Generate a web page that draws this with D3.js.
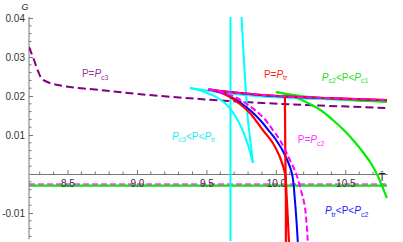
<!DOCTYPE html>
<html>
<head>
<meta charset="utf-8">
<script src="https://cdn.jsdelivr.net/npm/d3@7"></script>
<style>
body { margin: 0; background: #fff; }
svg { display: block; font-family: "Liberation Sans", Arial, sans-serif; }
</style>
</head>
<body>
<svg class="svgWrapper" width="403" height="242"></svg>
<script>
// curves, [T, G]
const pc3Dashed = [[8.223,0.03256],[8.259,0.02923],[8.288,0.02641],[8.317,0.02436],[8.374,0.02333],[8.518,0.02231],
	[8.734,0.02154],[9.007,0.02051],[9.453,0.01923],[9.906,0.01821],[10.317,0.01756],[10.799,0.01692]];

const flatGreen = [[8.223,-0.0030],[10.8,-0.0030]];
const flatMagenta = [[8.223,-0.0026],[10.8,-0.0026]];

const cyanVertical = [[9.673,0.0403],[9.673,-0.0172]];
const cyanSteep = [[9.753,0.0403],[9.770,0.02923],[9.784,0.02154],[9.799,0.01385],[9.820,0.00744],[9.835,0.00282]];
const cyanLower = [[9.381,0.02205],[9.489,0.02103],[9.583,0.01949],[9.655,0.01744],[9.712,0.01462],[9.763,0.01103],
	[9.799,0.00744],[9.835,0.00282]];
const cyanUpper = [[9.381,0.02205],[9.525,0.02128],[9.669,0.02064],[9.906,0.01987],[10.317,0.01923],[10.799,0.01859]];

const greenUpper = [[10.0,0.02103],[10.245,0.01974],[10.799,0.01846]];
const greenLower = [[10.0,0.02103],[10.115,0.0200],[10.245,0.01795],[10.331,0.01615],[10.410,0.01385],[10.496,0.01103],
	[10.568,0.00821],[10.626,0.00564],[10.683,0.00282],[10.734,-0.00051],[10.770,-0.00359],[10.799,-0.00615]];

const blueUpper = [[9.540,0.02154],[9.669,0.0210],[9.906,0.0202],[10.245,0.0196],[10.799,0.0189]];
const blueLower = [[9.540,0.02154],[9.633,0.02051],[9.705,0.01923],[9.813,0.01641],[9.899,0.01333],[9.957,0.01077],
	[10.007,0.00846],[10.065,0.00487],[10.115,0.00026],[10.137,-0.00667],[10.158,-0.01744]];

const redUpper = [[9.511,0.02167],[9.669,0.02103],[9.906,0.02026],[10.245,0.01962],[10.799,0.01897]];
const redLower = [[9.511,0.02167],[9.597,0.02103],[9.669,0.01974],[9.741,0.01795],[9.813,0.01564],[9.906,0.01128],
	[9.978,0.00795],[10.029,0.00436],[10.065,0.00026],[10.079,-0.00667],[10.094,-0.01744]];
const redVertical = [[10.065,0.0200],[10.068,0.00615],[10.072,-0.00667],[10.072,-0.01744]];

const magentaUpper = [[9.511,0.02167],[9.669,0.02103],[9.813,0.0206],[9.906,0.02026],[10.245,0.01962],[10.799,0.01897]];
const magentaLower = [[9.525,0.02179],[9.719,0.01949],[9.906,0.01462],[9.978,0.01128],[10.029,0.00872],[10.094,0.0041],
	[10.144,0.00026],[10.180,-0.0041],[10.209,-0.00846],[10.230,-0.01744]];

const xTicks = [8.5, 9.0, 9.5, 10.0, 10.5];
const xTickLabels = ['8.5','9.0','9.5','10.0','10.5'];
const yTicks = [-0.01, 0.01, 0.02, 0.03, 0.04];
const yTickLabels = ['-0.01','0.01','0.02','0.03','0.04'];

const svgObj = d3.select('.svgWrapper');

const x = d3.scaleLinear().domain([8.223, 10.8]).range([29, 387]);
const y = d3.scaleLinear().domain([-0.01718, 0.04026]).range([241, 17]);

svgObj.append('clipPath').attr('id', 'plotClip')
	.append('rect').attr('x', 29).attr('y', 17).attr('width', 360).attr('height', 226);

const lineGen = d3.line().x(d => x(d[0])).y(d => y(d[1])).curve(d3.curveCatmullRom.alpha(0.5));

function drawCurves(g, list){
	g.selectAll('path').data(list).join('path')
		.attr('d', c => lineGen(c.d))
		.attr('fill', 'none')
		.attr('stroke', c => c.c)
		.attr('stroke-width', c => c.w)
		.attr('stroke-dasharray', c => c.dash || null);
}

//flat branches go under the tick labels
drawCurves(svgObj.append('g').attr('clip-path', 'url(#plotClip)'), [
	{ d: flatGreen, c: '#00ee00', w: 2.2 },
	{ d: flatMagenta, c: '#ff44ff', w: 1.8, dash: '6,3' },
]);

//axes
const axisColor = '#777';

const xMinor = d3.range(8.3, 10.8, 0.1).filter(t => Math.abs(t*2 - Math.round(t*2)) > 0.01);
const yMinor = d3.range(-0.016, 0.0401, 0.002).filter(g => Math.abs(g*100 - Math.round(g*100)) > 0.01);

let xAxisG = svgObj.append('g').attr('transform', `translate(0,${y(0)})`)
	.call(d3.axisBottom(x).tickValues(xTicks).tickSizeInner(-4).tickSizeOuter(0).tickPadding(7)
		.tickFormat((d, i) => xTickLabels[i]));
xAxisG.append('g').selectAll('line').data(xMinor).join('line')
	.attr('x1', d => x(d)).attr('x2', d => x(d)).attr('y1', 0).attr('y2', -2.5);

let yAxisG = svgObj.append('g').attr('transform', `translate(${x(8.223)},0)`)
	.call(d3.axisLeft(y).tickValues(yTicks).tickSizeInner(-4).tickSizeOuter(0).tickPadding(4)
		.tickFormat((d, i) => yTickLabels[i]));
yAxisG.select('.domain').attr('d', `M0,${y(0.0403)}V${y(-0.0167)}`);
yAxisG.append('g').selectAll('line').data(yMinor).join('line')
	.attr('y1', d => y(d)).attr('y2', d => y(d)).attr('x1', 0).attr('x2', 2.5);

svgObj.selectAll('.domain').attr('stroke', axisColor);
svgObj.selectAll('line').attr('stroke', axisColor);
svgObj.selectAll('.tick text').attr('fill', '#333').attr('font-size', 10)
	.attr('font-family', '"Liberation Sans", Arial, sans-serif');
xAxisG.selectAll('.tick text').attr('dy', '0.55em');

//curves
drawCurves(svgObj.append('g').attr('clip-path', 'url(#plotClip)'), [
	{ d: pc3Dashed, c: '#800080', w: 2, dash: '8,4' },
	{ d: cyanVertical, c: '#00ffff', w: 2 },
	{ d: cyanSteep, c: '#00ffff', w: 2 },
	{ d: cyanLower, c: '#00ffff', w: 2 },
	{ d: cyanUpper, c: '#00ffff', w: 2 },
	{ d: greenUpper, c: '#00ee00', w: 2.2 },
	{ d: greenLower, c: '#00ee00', w: 2.2 },
	{ d: blueUpper, c: '#0000ff', w: 2 },
	{ d: blueLower, c: '#0000ff', w: 2 },
	{ d: redUpper, c: '#ff0000', w: 2.2 },
	{ d: redLower, c: '#ff0000', w: 2.2 },
	{ d: redVertical, c: '#ff0000', w: 2.2 },
	{ d: magentaUpper, c: '#ff00ff', w: 2, dash: '6,3' },
	{ d: magentaLower, c: '#ff00ff', w: 2, dash: '6,3' },
]);

//labels
const labels = [
	{ t: 8.604, g: 0.02487, c: '#993399', parts: [['P=',''],['P','i'],['c3','s']] },
	{ t: 9.914, g: 0.02462, c: '#ff2222', parts: [['P=',''],['P','i'],['tr','s']] },
	{ t: 10.331, g: 0.02385, c: '#22e022', parts: [['P','i'],['c2','s'],['<P<',''],['P','i'],['c1','s']] },
	{ t: 9.252, g: 0.00872, c: '#22eeee', parts: [['P','i'],['c3','s'],['<P<',''],['P','i'],['tr','s']] },
	{ t: 10.158, g: 0.00795, c: '#ff33ff', parts: [['P=',''],['P','i'],['c2','s']] },
	{ t: 10.353, g: -0.01026, c: '#2222ff', parts: [['P','i'],['tr','s'],['<P<',''],['P','i'],['c2','s']] },
];

labels.forEach(l => {
	let txt = svgObj.append('text')
		.attr('x', x(l.t)).attr('y', y(l.g))
		.attr('fill', l.c).attr('font-size', 10);
	l.parts.forEach((p, i) => {
		let prevSub = i > 0 && l.parts[i-1][1] === 's';
		let ts = txt.append('tspan').text(p[0]);
		if (p[1] === 'i') ts.attr('font-style', 'italic');
		if (p[1] === 's') ts.attr('font-size', 7).attr('dy', 2.5);
		else if (prevSub) ts.attr('dy', -2.5);
	});
});

//axis titles
svgObj.append('text').attr('x', 25).attr('y', 10).attr('text-anchor', 'middle')
	.attr('font-size', 9).attr('font-style', 'italic').attr('fill', '#222').text('G');
svgObj.append('text').attr('x', 382).attr('y', 181).attr('text-anchor', 'middle')
	.attr('font-size', 10).attr('fill', '#222')
	.attr('font-family', '"DejaVu Sans", sans-serif').text('T\u0302');
</script>
</body>
</html>
